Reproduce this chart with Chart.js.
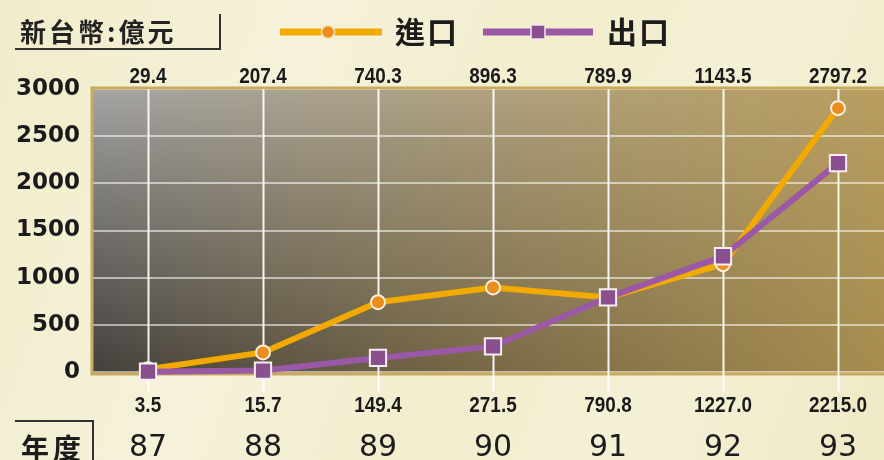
<!DOCTYPE html>
<html lang="zh-Hant">
<head>
    <meta charset="UTF-8">
    <title>進出口金額</title>
    <style>
        body {
            margin: 0;
            width: 884px;
            height: 460px;
            overflow: hidden;
            background: linear-gradient(110deg, #f1ecca 0%, #f6f2da 30%, #f2edcd 55%, #f5f1d6 75%, #efe9c6 100%);
        }
        canvas { display: block; }
    </style>
    <script src="https://cdn.jsdelivr.net/npm/chart.js"></script>
</head>
<body>
    <canvas id="tradeChart" width="884" height="460"></canvas>

    <script>
        // data
        const years = [87, 88, 89, 90, 91, 92, 93];
        const importValues = [29.4, 207.4, 740.3, 896.3, 789.9, 1143.5, 2797.2];
        const exportValues = [3.5, 15.7, 149.4, 271.5, 790.8, 1227.0, 2215.0];
        const yTicks = [0, 500, 1000, 1500, 2000, 2500, 3000];
        const seriesNames = ['進口', '出口'];
        const unitText = '新台幣:億元';
        const yearText = '年度';

        const ORANGE_LINE = '#f2aa00';
        const ORANGE_DOT = '#ec8d1f';
        const PURPLE_LINE = '#9b58a6';
        const PURPLE_DOT = '#8a4f8f';

        function squeezeText(ctx, text, x, y, sx) {
            ctx.save();
            ctx.translate(x, y);
            ctx.scale(sx, 1);
            ctx.fillText(text, 0, 0);
            ctx.restore();
        }

        // shaded plot panel (grey top-left, dark bottom-left, gold right)
        const plotBackground = {
            id: 'plotBackground',
            beforeDraw(chart) {
                const ctx = chart.ctx;
                const a = chart.chartArea;
                const left = Math.round(a.left), top = Math.round(a.top) - 1;
                const w = chart.width - left, h = Math.round(a.bottom) + 2 - top;
                const tl = [166, 166, 166], tr = [184, 158, 96];
                const bl = [66, 63, 60], br = [166, 140, 78];
                const img = ctx.createImageData(w, h);
                for (let j = 0; j < h; j++) {
                    const v = Math.pow(j / (h - 1), 0.9);
                    for (let i = 0; i < w; i++) {
                        const u = Math.pow(i / (w - 1), 0.9);
                        const k = (j * w + i) * 4;
                        for (let c = 0; c < 3; c++) {
                            const t = tl[c] + (tr[c] - tl[c]) * u;
                            const b = bl[c] + (br[c] - bl[c]) * u;
                            img.data[k + c] = t + (b - t) * v;
                        }
                        img.data[k + 3] = 255;
                    }
                }
                ctx.putImageData(img, left, top);
            }
        };

        // border and the white drop lines at each year
        const plotFrame = {
            id: 'plotFrame',
            beforeDatasetsDraw(chart) {
                const ctx = chart.ctx;
                const a = chart.chartArea;
                const xs = chart.scales.x, ys = chart.scales.y;
                ctx.save();
                ctx.strokeStyle = '#c9a95c';
                ctx.lineWidth = 3;
                ctx.strokeRect(a.left, a.top - 1, chart.width - a.left + 2, a.bottom - a.top + 3);

                ctx.strokeStyle = 'rgba(255,255,255,0.92)';
                ctx.lineWidth = 2;
                years.forEach((yr, i) => {
                    const x = Math.round(xs.getPixelForValue(yr)) + 0.5;
                    const p1 = ys.getPixelForValue(importValues[i]);
                    const p2 = ys.getPixelForValue(exportValues[i]);
                    ctx.beginPath();
                    ctx.moveTo(x, a.top);
                    ctx.lineTo(x, Math.min(p1, p2));
                    ctx.moveTo(x, Math.max(p1, p2));
                    ctx.lineTo(x, 392);
                    ctx.stroke();
                });
                ctx.restore();
            }
        };

        // titles, legend and value labels
        const chartTexts = {
            id: 'chartTexts',
            afterDraw(chart) {
                const ctx = chart.ctx;
                const xs = chart.scales.x;
                ctx.save();
                ctx.fillStyle = '#222';
                ctx.strokeStyle = '#333';
                ctx.lineWidth = 2;

                // unit box
                ctx.font = 'bold 26px "Noto Sans CJK TC"';
                ctx.textBaseline = 'middle';
                ctx.textAlign = 'left';
                ctx.letterSpacing = '3px';
                ctx.fillText(unitText, 20, 32);
                ctx.letterSpacing = '0px';
                ctx.beginPath();
                ctx.moveTo(15, 49);
                ctx.lineTo(220, 49);
                ctx.lineTo(220, 14);
                ctx.stroke();

                // legend
                ctx.lineWidth = 7;
                ctx.strokeStyle = ORANGE_LINE;
                ctx.beginPath();
                ctx.moveTo(280, 32);
                ctx.lineTo(382, 32);
                ctx.stroke();
                ctx.fillStyle = ORANGE_DOT;
                ctx.strokeStyle = '#f6e6c8';
                ctx.lineWidth = 1.5;
                ctx.beginPath();
                ctx.arc(328, 32, 6.5, 0, Math.PI * 2);
                ctx.fill();
                ctx.stroke();

                ctx.lineWidth = 7;
                ctx.strokeStyle = PURPLE_LINE;
                ctx.beginPath();
                ctx.moveTo(483, 32);
                ctx.lineTo(593, 32);
                ctx.stroke();
                ctx.fillStyle = PURPLE_DOT;
                ctx.strokeStyle = '#efe6ee';
                ctx.lineWidth = 1.5;
                ctx.fillRect(531, 25, 14, 14);
                ctx.strokeRect(531, 25, 14, 14);

                ctx.fillStyle = '#1c1c1c';
                ctx.font = 'bold 30px "Noto Sans CJK TC"';
                ctx.letterSpacing = '2px';
                ctx.fillText(seriesNames[0], 395, 32);
                ctx.fillText(seriesNames[1], 607, 32);

                // year caption box
                ctx.font = 'bold 28px "Noto Sans CJK TC"';
                ctx.letterSpacing = '4px';
                ctx.fillText(yearText, 21, 448);
                ctx.letterSpacing = '0px';
                ctx.strokeStyle = '#333';
                ctx.lineWidth = 2;
                ctx.beginPath();
                ctx.moveTo(15, 421);
                ctx.lineTo(93, 421);
                ctx.lineTo(93, 462);
                ctx.stroke();

                // import values above, export values below
                ctx.font = 'bold 22px "Liberation Sans"';
                ctx.textAlign = 'center';
                ctx.fillStyle = '#1a1a1a';
                years.forEach((yr, i) => {
                    const x = xs.getPixelForValue(yr);
                    squeezeText(ctx, importValues[i].toFixed(1), x, 77, 0.86);
                    squeezeText(ctx, exportValues[i].toFixed(1), x, 406, 0.86);
                });
                ctx.restore();
            }
        };

        const ctx = document.getElementById('tradeChart').getContext('2d');
        const tradeChart = new Chart(ctx, {
            type: 'line',
            data: {
                datasets: [{
                    label: seriesNames[0],
                    data: years.map((yr, i) => ({ x: yr, y: importValues[i] })),
                    borderColor: ORANGE_LINE,
                    borderWidth: 6,
                    pointRadius: 7,
                    pointBackgroundColor: ORANGE_DOT,
                    pointBorderColor: '#fbf0dc',
                    pointBorderWidth: 2,
                    clip: false,
                    order: 1
                }, {
                    label: seriesNames[1],
                    data: years.map((yr, i) => ({ x: yr, y: exportValues[i] })),
                    borderColor: PURPLE_LINE,
                    borderWidth: 6,
                    pointStyle: 'rect',
                    pointRadius: 11.5,
                    pointBackgroundColor: PURPLE_DOT,
                    pointBorderColor: '#f5eef2',
                    pointBorderWidth: 2,
                    clip: false,
                    order: 0
                }]
            },
            options: {
                responsive: false,
                animation: false,
                layout: {
                    autoPadding: false,
                    padding: { top: 89, left: 0, right: 0, bottom: 0 }
                },
                plugins: {
                    legend: { display: false },
                    tooltip: { enabled: false }
                },
                scales: {
                    x: {
                        type: 'linear',
                        min: 87 - 56 / 115,
                        max: 93 + 46 / 115,
                        afterBuildTicks: (axis) => { axis.ticks = years.map(v => ({ value: v })); },
                        afterFit: (axis) => {
                            axis.height = 88;
                            axis.paddingLeft = 0;
                            axis.paddingRight = 0;
                        },
                        grid: { display: false },
                        border: { display: false },
                        ticks: {
                            autoSkip: false,
                            maxRotation: 0,
                            padding: 50,
                            color: '#1c1c1c',
                            font: { family: 'DejaVu Sans', size: 30 },
                            callback: (v) => String(v)
                        }
                    },
                    y: {
                        min: 0,
                        max: 3000,
                        afterBuildTicks: (axis) => { axis.ticks = yTicks.map(v => ({ value: v })); },
                        afterFit: (axis) => { axis.width = 92; },
                        grid: {
                            color: 'rgba(255,255,255,0.55)',
                            lineWidth: 2,
                            drawTicks: false
                        },
                        border: { display: false },
                        ticks: {
                            padding: 12,
                            color: '#1a1a1a',
                            font: { family: 'DejaVu Sans', size: 23, weight: 'bold' },
                            callback: (v) => String(v)
                        }
                    }
                }
            },
            plugins: [plotBackground, plotFrame, chartTexts]
        });
    </script>
</body>
</html>
